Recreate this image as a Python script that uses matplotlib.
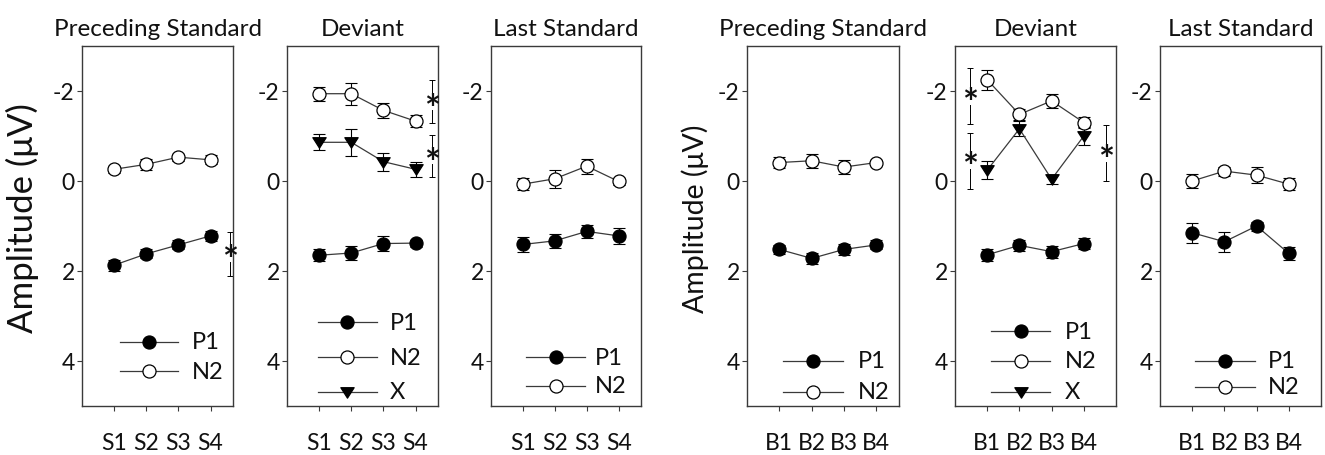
import matplotlib
matplotlib.use("Agg")
import matplotlib.pyplot as plt
from matplotlib.path import Path

plt.rcParams['font.family'] = ['Lato', 'DejaVu Sans']
plt.rcParams['axes.unicode_minus'] = False

# ---------------- data ----------------
titles = ["Preceding Standard", "Deviant", "Last Standard",
          "Preceding Standard", "Deviant", "Last Standard"]
s_labels = ["S1", "S2", "S3", "S4"]
b_labels = ["B1", "B2", "B3", "B4"]
positions = [1, 2, 3, 4]
ylabel_text = "Amplitude (\u03bcV)"

# Panel 1: Preceding Standard (S)
ps_s_p1 = [1.87, 1.62, 1.42, 1.22]
ps_s_p1_err = [0.12, 0.10, 0.10, 0.12]
ps_s_n2 = [-0.26, -0.37, -0.53, -0.47]
ps_s_n2_err = [0.08, 0.12, 0.08, 0.10]

# Panel 2: Deviant (S)
dev_s_p1 = [1.65, 1.60, 1.39, 1.38]
dev_s_p1_err = [0.13, 0.15, 0.17, 0.08]
dev_s_n2 = [-1.94, -1.94, -1.57, -1.33]
dev_s_n2_err = [0.16, 0.24, 0.17, 0.13]
dev_s_x = [-0.86, -0.86, -0.43, -0.26]
dev_s_x_err = [0.18, 0.30, 0.20, 0.17]

# Panel 3: Last Standard (S)
ls_s_p1 = [1.41, 1.33, 1.12, 1.22]
ls_s_p1_err = [0.17, 0.15, 0.15, 0.18]
ls_s_n2 = [0.07, -0.05, -0.33, 0.01]
ls_s_n2_err = [0.13, 0.20, 0.17, 0.07]

# Panel 4: Preceding Standard (B)
ps_b_p1 = [1.52, 1.72, 1.52, 1.42]
ps_b_p1_err = [0.10, 0.12, 0.12, 0.10]
ps_b_n2 = [-0.41, -0.45, -0.31, -0.41]
ps_b_n2_err = [0.12, 0.15, 0.15, 0.05]

# Panel 5: Deviant (B)
dev_b_p1 = [1.64, 1.43, 1.57, 1.39]
dev_b_p1_err = [0.13, 0.13, 0.13, 0.13]
dev_b_n2 = [-2.25, -1.48, -1.78, -1.30]
dev_b_n2_err = [0.22, 0.13, 0.16, 0.13]
dev_b_x = [-0.24, -1.16, -0.04, -1.00]
dev_b_x_err = [0.20, 0.17, 0.10, 0.20]

# Panel 6: Last Standard (B)
ls_b_p1 = [1.15, 1.35, 1.00, 1.61]
ls_b_p1_err = [0.22, 0.22, 0.10, 0.15]
ls_b_n2 = [0.00, -0.22, -0.13, 0.07]
ls_b_n2_err = [0.15, 0.10, 0.18, 0.13]

# significance brackets: (x, top, bottom)
brackets_ps_s = [(4.60, 1.13, 2.10)]
brackets_dev_s = [(4.51, -2.24, -1.28), (4.51, -1.02, -0.10)]
brackets_dev_b = [(0.48, -2.52, -1.26), (0.48, -1.07, 0.17), (4.68, -1.24, 0.00)]

# ---------------- styles ----------------
LINE_C = '#3a3a3a'
SPINE_C = '#3a3a3a'
TXT_C = '#111111'
FS = 16.5
TITLE_FS = 17.5
MS = 9.4
tri = Path([(-1.0, 0.72), (1.0, 0.72), (0.0, -0.85), (-1.0, 0.72)],
           [Path.MOVETO, Path.LINETO, Path.LINETO, Path.CLOSEPOLY])
STY = {
    'P1': dict(marker='o', mfc='black', ms=MS),
    'N2': dict(marker='o', mfc='white', ms=MS),
    'X': dict(marker=tri, mfc='black', ms=MS * 1.02),
}

W, H = 1325, 456
AX_TOP, AX_BOT = 47, 407


def make_axes(left_px, right_px):
    return fig.add_axes([left_px / W, (H - AX_BOT) / H,
                         (right_px - left_px) / W, (AX_BOT - AX_TOP) / H])


def style_axes(ax, title, xlabels, xmax):
    ax.set_ylim(5, -3)
    ax.set_yticks([-2, 0, 2, 4])
    ax.set_xlim(0, xmax)
    ax.set_xticks(positions)
    ax.set_xticklabels(xlabels)
    for s in ax.spines.values():
        s.set_color(SPINE_C)
        s.set_linewidth(1.0)
    ax.tick_params(axis='both', direction='out', length=3.3, width=0.8,
                   color=SPINE_C, labelsize=FS, labelcolor=TXT_C)
    ax.tick_params(axis='x', pad=15.5)
    ax.tick_params(axis='y', pad=2.0)
    ax.set_title(title, fontsize=TITLE_FS, color=TXT_C, pad=8)


def draw_series(ax, y, err, key):
    st = STY[key]
    ax.errorbar(positions, y, yerr=err, fmt='none', ecolor='black',
                elinewidth=0.8, capsize=4, capthick=0.8, zorder=2)
    ax.plot(positions, y, color=LINE_C, lw=0.9, marker=st['marker'],
            ms=st['ms'], mfc=st['mfc'], mec='black', mew=0.9, zorder=3)


def draw_brackets(ax, brackets):
    for x, top, bot in brackets:
        mid = (top + bot) / 2.0
        gap = 0.19
        ax.plot([x, x], [top, mid - gap], color='black', lw=0.7)
        ax.plot([x, x], [mid + gap, bot], color='black', lw=0.7)
        for yy in (top, bot):
            ax.plot([x], [yy], marker='_', ms=4, mew=0.7, color='black')
        ax.annotate('*', (x, mid), xytext=(0, -13.5), textcoords='offset points',
                    ha='center', va='baseline', fontsize=27, fontweight='bold',
                    color=TXT_C)


def draw_legend(ax, x0, x1, xt, rows):
    for y, key in rows:
        st = STY[key]
        ax.plot([x0, x1], [y, y], transform=ax.transAxes, color=LINE_C,
                lw=0.9, clip_on=False, zorder=4)
        ax.plot([(x0 + x1) / 2.0], [y], transform=ax.transAxes,
                marker=st['marker'], ms=st['ms'], mfc=st['mfc'], mec='black',
                mew=0.9, clip_on=False, zorder=5)
        ax.text(xt, y, key, transform=ax.transAxes, ha='left', va='center',
                fontsize=FS + 0.5, color=TXT_C)


fig = plt.figure(figsize=(W / 100, H / 100), dpi=100)

# Panel 1
ax1 = make_axes(82, 233)
style_axes(ax1, titles[0], s_labels, 4.7)
draw_series(ax1, ps_s_p1, ps_s_p1_err, 'P1')
draw_series(ax1, ps_s_n2, ps_s_n2_err, 'N2')
draw_brackets(ax1, brackets_ps_s)
draw_legend(ax1, 0.252, 0.636, 0.728, [(0.178, 'P1'), (0.097, 'N2')])
ax1.set_ylabel(ylabel_text, fontsize=25, color=TXT_C, va='center')
ax1.yaxis.set_label_coords(-0.397, 0.524)

# Panel 2
ax2 = make_axes(287, 438)
style_axes(ax2, titles[1], s_labels, 4.7)
draw_series(ax2, dev_s_p1, dev_s_p1_err, 'P1')
draw_series(ax2, dev_s_n2, dev_s_n2_err, 'N2')
draw_series(ax2, dev_s_x, dev_s_x_err, 'X')
draw_brackets(ax2, brackets_dev_s)
draw_legend(ax2, 0.205, 0.596, 0.682, [(0.233, 'P1'), (0.136, 'N2'), (0.039, 'X')])

# Panel 3
ax3 = make_axes(491, 641)
style_axes(ax3, titles[2], s_labels, 4.7)
draw_series(ax3, ls_s_p1, ls_s_p1_err, 'P1')
draw_series(ax3, ls_s_n2, ls_s_n2_err, 'N2')
draw_legend(ax3, 0.233, 0.627, 0.693, [(0.136, 'P1'), (0.056, 'N2')])

# Panel 4
ax4 = make_axes(747, 899)
style_axes(ax4, titles[3], b_labels, 4.7)
draw_series(ax4, ps_b_p1, ps_b_p1_err, 'P1')
draw_series(ax4, ps_b_n2, ps_b_n2_err, 'N2')
draw_legend(ax4, 0.237, 0.632, 0.730, [(0.125, 'P1'), (0.039, 'N2')])
ax4.set_ylabel(ylabel_text, fontsize=20.5, color=TXT_C, va='center')
ax4.yaxis.set_label_coords(-0.342, 0.524)

# Panel 5
ax5 = make_axes(955, 1116)
style_axes(ax5, titles[4], b_labels, 5.0)
draw_series(ax5, dev_b_p1, dev_b_p1_err, 'P1')
draw_series(ax5, dev_b_n2, dev_b_n2_err, 'N2')
draw_series(ax5, dev_b_x, dev_b_x_err, 'X')
draw_brackets(ax5, brackets_dev_b)
draw_legend(ax5, 0.224, 0.590, 0.683, [(0.208, 'P1'), (0.125, 'N2'), (0.039, 'X')])

# Panel 6
ax6 = make_axes(1160, 1321)
style_axes(ax6, titles[5], b_labels, 5.0)
draw_series(ax6, ls_b_p1, ls_b_p1_err, 'P1')
draw_series(ax6, ls_b_n2, ls_b_n2_err, 'N2')
draw_legend(ax6, 0.217, 0.590, 0.671, [(0.125, 'P1'), (0.053, 'N2')])

fig.savefig('out.png', dpi=100)
